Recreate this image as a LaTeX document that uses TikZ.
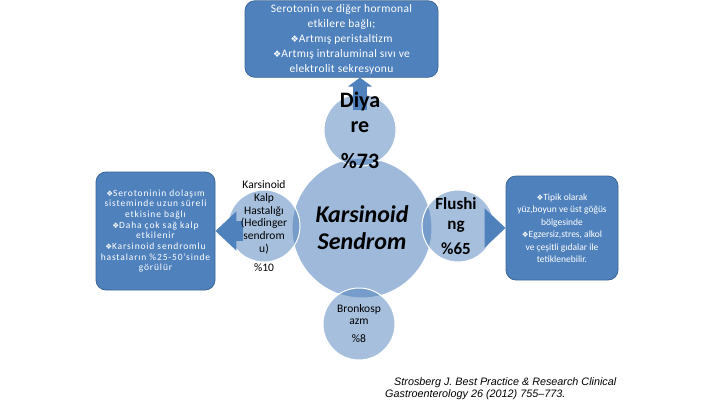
\documentclass[tikz,border=0pt]{standalone}
\usepackage{fontspec}
\setmainfont{Carlito}
\newfontfamily\symfont{DejaVu Sans}
\newfontfamily\citefont{Liberation Sans}
\usetikzlibrary{arrows.meta}
\definecolor{boxblue}{HTML}{4F81BD}
\definecolor{boxline}{HTML}{3A6596}
\newcommand{\madde}{\scalebox{0.8}{\symfont ❖}}
\pgfdeclarelayer{background}
\pgfsetlayers{background,main}
\begin{document}
\begin{tikzpicture}[x=1pt,y=-1pt,
  kutu/.style={draw=boxline,fill=boxblue,rounded corners=10pt,text=white,align=center,line width=0.8pt},
  halka/.style={circle,draw=white,line width=1pt,fill=boxblue,fill opacity=0.5,inner sep=0pt,minimum size=72pt},
  yazi/.style={align=center,inner sep=0pt},
  blok/.style={draw=boxblue,line width=20pt,-{Triangle[width=38pt,length=21pt]}}]
\useasboundingbox (0,0) rectangle (720,405);
\node[kutu,minimum width=193pt,minimum height=74pt,font=\fontsize{11.5}{15}\selectfont\addfontfeatures{LetterSpace=3}] (topbox) at (341.5,39) {Serotonin ve diğer hormonal\\etkilere bağlı;\\\madde Artmış peristaltizm\\\madde Artmış intraluminal sıvı ve\\elektrolit sekresyonu};
\node[kutu,minimum width=119pt,minimum height=118pt,font=\fontsize{9.5}{10.7}\selectfont\addfontfeatures{LetterSpace=9}] (leftbox) at (155.5,231) {\madde Serotoninin dolaşım\\sisteminde uzun süreli\\etkisine bağlı\\\madde Daha çok sağ kalp\\etkilenir\\\madde Karsinoid sendromlu\\hastaların \%25-50’sinde\\görülür};
\node[kutu,minimum width=112pt,minimum height=104pt,font=\fontsize{9.5}{12.5}\selectfont] (rightbox) at (562,228) {\madde Tipik olarak\\yüz,boyun ve üst göğüs\\bölgesinde\\\madde Egzersiz,stres, alkol\\ve çeşitli gıdalar ile\\tetiklenebilir.};
\node[halka,minimum size=140pt,fill opacity=0.55] (merkez) at (362,228) {};
\node[halka] (diyare) at (360,130) {};
\node[halka] (kalp) at (264,226) {};
\node[halka] (flush) at (458,226) {};
\node[halka] (bronk) at (359,324) {};
\draw[blok,line width=14pt,-{Triangle[width=24pt,length=9pt]}] ([yshift=-16pt]diyare.north) -- (diyare.north |- topbox.south);
\coordinate (kalpuc) at ([xshift=15pt]kalp.west);
\draw[blok] (kalpuc |- leftbox.east) -- (leftbox.east);
\coordinate (flushuc) at ([xshift=-10pt]flush.east);
\draw[blok] (flushuc |- rightbox.west) -- (rightbox.west);
\node[yazi,font=\bfseries\itshape\fontsize{24}{27}\selectfont] (merkeztxt) at (merkez) {Karsinoid\\Sendrom};
\node[yazi,font=\bfseries\fontsize{22}{25}\selectfont] (diyaretxt) at (diyare) {Diya\\re\\[11pt]\%73};
\node[yazi,font=\fontsize{11.5}{12.8}\selectfont] (kalptxt) at (kalp) {Karsinoid\\Kalp\\Hastalığı\\(Hedinger\\sendrom\\u)\\[6pt]\%10};
\node[yazi,font=\bfseries\fontsize{17}{20}\selectfont] (flushtxt) at ([xshift=-2pt]flush) {Flushi\\ng\\[5pt]\%65};
\node[yazi,font=\fontsize{11.5}{12}\selectfont] (bronktxt) at (bronk) {Bronkosp\\azm\\[6pt]\%8};
\node[anchor=north west,align=left,inner sep=0pt,font=\citefont\itshape\fontsize{10.8}{12}\selectfont] (kaynak) at (385,377) {\hspace*{9pt}Strosberg J. Best Practice \& Research Clinical\\Gastroenterology 26 (2012) 755–773.};
\begin{pgfonlayer}{background}
\fill[white] (0,0) rectangle (720,405);
\end{pgfonlayer}
\end{tikzpicture}
\end{document}
